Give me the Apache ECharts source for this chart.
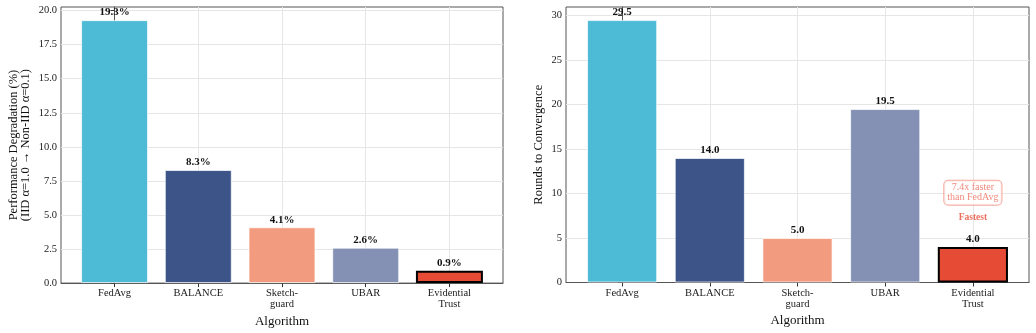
<!DOCTYPE html>
<html>
<head>
<meta charset="utf-8">
<script src="https://cdn.jsdelivr.net/npm/echarts@6/dist/echarts.min.js"></script>
<style>
html,body{margin:0;padding:0;background:#fff;}
#c{width:1036px;height:333px;}
</style>
</head>
<body>
<div id="c"></div>
<script>
const categories = ['FedAvg', 'BALANCE', 'Sketch-\nguard', 'UBAR', 'Evidential\nTrust'];
const colors = ['#4DBBD5', '#3C5488', '#F39B7F', '#8491B4', '#E64B35'];
const degradation = [19.3, 8.3, 4.1, 2.6, 0.9];
const rounds = [29.5, 14.0, 5.0, 19.5, 4.0];
const leftTicks = [0, 2.5, 5, 7.5, 10, 12.5, 15, 17.5, 20];
const rightTicks = [0, 5, 10, 15, 20, 25, 30];
const xTicks = [0, 1, 2, 3, 4];
const annotFastest = [4, 7.3];
const annotBox = [4, 10.1];

const FONT = '"Liberation Serif", "DejaVu Serif", serif';
const chart = echarts.init(document.getElementById('c'));

const grids = [
  {left: 61, right: 533, top: 7, bottom: 49},
  {left: 566, right: 7, top: 7, bottom: 50.5}
];
const W = 1036;
function barW(g){ return (W - g.left - g.right) / 5.28 * 0.8; }

function xAxis(idx){
  return {
    type: 'value', gridIndex: idx, min: -0.64, max: 4.64,
    name: 'Algorithm', nameLocation: 'middle', nameGap: 29,
    nameTextStyle: {fontFamily: FONT, fontSize: 13, color: '#111'},
    axisLine: {show: true, lineStyle: {color: '#555', width: 1}},
    axisTick: {show: true, length: 4, customValues: xTicks, lineStyle: {color: '#333'}},
    axisLabel: {customValues: xTicks, fontFamily: FONT, fontSize: 10.5, color: '#1a1a1a', lineHeight: 11, margin: 5,
      formatter: v => categories[Math.round(v)] || ''},
    splitLine: {show: true, lineStyle: {color: '#e6e6e6', width: 1}}
  };
}
function yAxis(idx, max, ticks, name, nameGap, fmt){
  return {
    type: 'value', gridIndex: idx, min: 0, max: max,
    name: name, nameLocation: 'middle', nameGap: nameGap, nameRotate: 90,
    nameTextStyle: {fontFamily: FONT, fontSize: 12.5, color: '#111', lineHeight: 12, align: 'center'},
    axisLine: {show: true, lineStyle: {color: '#555', width: 1}},
    axisTick: {show: true, length: 4, customValues: ticks, lineStyle: {color: '#333'}},
    axisLabel: {customValues: ticks, fontFamily: FONT, fontSize: 10.5, color: '#1a1a1a', margin: 4, formatter: fmt},
    splitLine: {show: true, lineStyle: {color: '#e6e6e6', width: 1}}
  };
}
function barData(vals){
  return vals.map((v, i) => ({
    value: [i, v],
    itemStyle: i === 4 ? {color: colors[i], borderColor: '#000', borderWidth: 2}
                       : {color: colors[i], borderColor: 'rgba(255,255,255,0.7)', borderWidth: 1}
  }));
}
const labelStyle = {show: true, position: 'top', distance: 2, fontFamily: FONT, fontWeight: 'bold', fontSize: 11, color: '#111'};

chart.setOption({
  animation: false,
  grid: grids.map(g => Object.assign({show: true, borderColor: '#555', borderWidth: 1, backgroundColor: 'transparent'}, g)),
  xAxis: [xAxis(0), xAxis(1)],
  yAxis: [
    yAxis(0, 19.3 * 1.05, leftTicks, 'Performance Degradation (%)\n(IID α=1.0 → Non-IID α=0.1)', 29, v => v.toFixed(1)),
    yAxis(1, 29.5 * 1.05, rightTicks, 'Rounds to Convergence', 21, v => String(v))
  ],
  series: [
    {type: 'bar', xAxisIndex: 0, yAxisIndex: 0, barWidth: barW(grids[0]), data: barData(degradation),
     label: Object.assign({}, labelStyle, {formatter: p => p.value[1].toFixed(1) + '%'})},
    {type: 'bar', xAxisIndex: 1, yAxisIndex: 1, barWidth: barW(grids[1]), data: barData(rounds),
     label: Object.assign({}, labelStyle, {formatter: p => p.value[1].toFixed(1)})},
    {type: 'scatter', xAxisIndex: 1, yAxisIndex: 1, symbolSize: 0, silent: true,
     data: [
       {value: annotFastest, label: {show: true, position: 'inside', formatter: 'Fastest', fontFamily: FONT, fontWeight: 'bold', fontSize: 9.5, color: '#E64B35'}},
       {value: annotBox, label: {show: true, position: 'inside', formatter: '7.4x faster\nthan FedAvg', fontFamily: FONT, fontSize: 10, lineHeight: 10, color: '#EE6A5A',
         backgroundColor: '#fff', borderColor: '#F2958A', borderWidth: 1, borderRadius: 4, padding: [2, 3, 2, 3]}}
     ]}
  ]
});
</script>
</body>
</html>
